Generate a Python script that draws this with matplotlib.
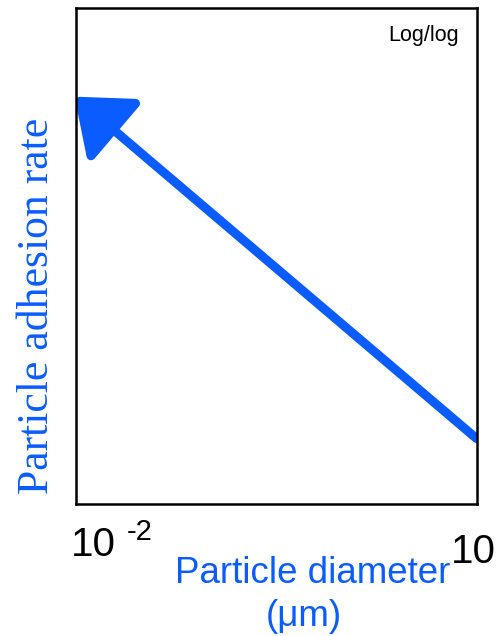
import matplotlib.pyplot as plt
from matplotlib.patches import FancyArrowPatch

# Дані: дві точки прямої (log/log), хвіст справа, стрілка зліва
diameter = [10, 0.01]
adhesion = [2.5, 290]
x_limits = [0.01, 10]
y_limits = [1, 1000]

blue = '#0a5cff'

fig = plt.figure(figsize=(4.99, 6.36), dpi=100)
ax = fig.add_axes([0.153, 0.207, 0.803, 0.781])
ax.set_xscale('log')
ax.set_yscale('log')
ax.set_xlim(x_limits)
ax.set_ylim(y_limits)
ax.set_xticks([])
ax.set_yticks([])
ax.minorticks_off()
for s in ax.spines.values():
    s.set_linewidth(1.8)

arrow = FancyArrowPatch((diameter[0] * 0.99, adhesion[0]), (diameter[1] * 0.97, adhesion[1]),
                        arrowstyle='-|>,head_length=0.95,head_width=0.75',
                        mutation_scale=33, color=blue, lw=6.5, shrinkA=0, shrinkB=0)
ax.add_patch(arrow)

ax.text(0.955, 0.965, 'Log/log', transform=ax.transAxes, ha='right', va='top',
        fontsize=15.5, family='Liberation Sans')

# Підписи осі x
fig.text(71 / 499, 1 - 556 / 636, '10', fontsize=29, family='Liberation Sans', ha='left', va='baseline')
fig.text(127 / 499, 1 - 540 / 636, '-2', fontsize=21, family='Liberation Sans', ha='left', va='baseline')
fig.text(451 / 499, 1 - 563 / 636, '10', fontsize=29, family='Liberation Sans', ha='left', va='baseline')

fig.text(313 / 499, 1 - 583 / 636, 'Particle diameter', fontsize=26.5, color=blue,
         family='Liberation Sans', ha='center', va='baseline')
fig.text(304 / 499, 1 - 626 / 636, '(\u03bcm)', fontsize=26.5, color=blue,
         family='Liberation Sans', ha='center', va='baseline')

fig.text(37 / 499, 1 - 306 / 636, 'Particle adhesion rate', fontsize=31.5, color=blue,
         family='Liberation Serif', rotation=90, ha='center', va='center')

fig.savefig('out.png', dpi=100)
